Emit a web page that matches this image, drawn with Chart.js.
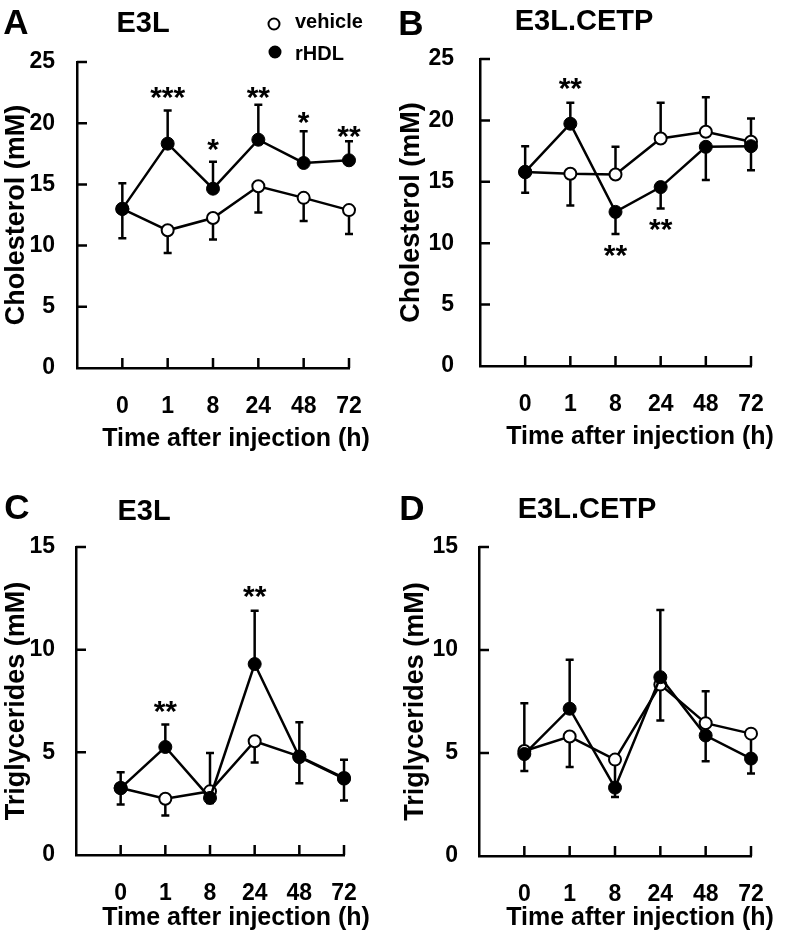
<!DOCTYPE html>
<html>
<head>
<meta charset="utf-8">
<script src="https://cdn.jsdelivr.net/npm/chart.js@4.4.1/dist/chart.umd.min.js"></script>
<style>
  body { margin: 0; background: #fff; }
  #wrap { position: relative; width: 788px; height: 941px; background: #fff; }
  canvas { position: absolute; }
</style>
</head>
<body>
<div id="wrap">
  <canvas id="chartA" width="394" height="460" style="left:0;top:0"></canvas>
  <canvas id="chartB" width="394" height="460" style="left:394px;top:0"></canvas>
  <canvas id="chartC" width="394" height="481" style="left:0;top:460px"></canvas>
  <canvas id="chartD" width="394" height="481" style="left:394px;top:460px"></canvas>
</div>
<script>
// data (mean values, error = SD; sign gives direction drawn)
var timeLabels = ['0', '1', '8', '24', '48', '72'];
var seriesNames = ['vehicle', 'rHDL'];
var xTitle = 'Time after injection (h)';

// A - cholesterol, E3L
var cholE3LVehicle = [13.0, 11.25, 12.25, 14.85, 13.9, 12.9];
var cholE3LVehicleErr = [-2.4, -1.85, -1.75, -2.15, -1.9, -1.95];
var cholE3LRhdl = [13.0, 18.33, 14.65, 18.65, 16.75, 16.97];
var cholE3LRhdlErr = [2.1, 2.7, 2.2, 2.85, 2.6, 1.55];
var cholE3LStars = ['', '***', '*', '**', '*', '**'];
var cholE3LStarLevel = [0, 22.5, 18.2, 22.5, 20.4, 19.3];

// B - cholesterol, E3L.CETP
var cholCetpVehicle = [15.8, 15.65, 15.6, 18.53, 19.08, 18.26];
var cholCetpVehicleErr = [2.1, -2.58, 2.25, 2.9, 2.8, 1.9];
var cholCetpRhdl = [15.8, 19.73, 12.55, 14.57, 17.85, 17.9];
var cholCetpRhdlErr = [-1.7, 1.7, -1.8, -1.74, -2.7, -1.95];
var cholCetpStars = ['', '**', '**', '**', '', ''];
var cholCetpStarLevel = [0, 22.95, 9.35, 11.45, 0, 0];

// C - triglycerides, E3L
var tgE3LVehicle = [3.26, 2.74, 3.1, 5.54, 4.8, 3.75];
var tgE3LVehicleErr = [-0.8, -0.82, 1.87, -1.03, -1.3, -1.1];
var tgE3LRhdl = [3.26, 5.26, 2.78, 9.3, 4.77, 3.72];
var tgE3LRhdlErr = [0.77, 1.09, -0.25, 2.6, 1.69, 0.92];
var tgE3LStars = ['', '**', '', '**', '', ''];
var tgE3LStarLevel = [0, 7.22, 0, 12.82, 0, 0];

// D - triglycerides, E3L.CETP
var tgCetpVehicle = [5.1, 5.8, 4.68, 8.32, 6.45, 5.94];
var tgCetpVehicleErr = [-0.97, -1.48, -1.4, -1.74, 1.55, -1.0];
var tgCetpRhdl = [4.95, 7.15, 3.32, 8.68, 5.85, 4.73];
var tgCetpRhdlErr = [2.47, 2.38, -0.45, 3.26, -1.25, -0.73];
var tgCetpStars = ['', '', '', '', '', ''];
var tgCetpStarLevel = [0, 0, 0, 0, 0, 0];

var FONT = '"Liberation Sans", Arial, sans-serif';
var X_AXIS_H = 81;

function textMid(ctx, txt, cx, cy, align) {
  ctx.textAlign = align || 'center';
  ctx.textBaseline = 'alphabetic';
  var m = ctx.measureText(txt);
  ctx.fillText(txt, cx, cy + (m.actualBoundingBoxAscent - m.actualBoundingBoxDescent) / 2);
}

function makePanel(id, p) {
  var decor = {
    id: 'decor',
    beforeDatasetsDraw: function (chart) {
      var ctx = chart.ctx, xs = chart.scales.x, ys = chart.scales.y;
      ctx.save();
      ctx.strokeStyle = '#000';
      ctx.lineWidth = 2.5;
      // error bars
      chart.data.datasets.forEach(function (ds) {
        ds.data.forEach(function (pt, i) {
          var e = ds.err[i];
          if (!e) return;
          var px = xs.getPixelForValue(pt.x);
          var y0 = ys.getPixelForValue(pt.y);
          var y1 = ys.getPixelForValue(pt.y + e);
          ctx.beginPath();
          ctx.moveTo(px, y0); ctx.lineTo(px, y1);
          ctx.moveTo(px - 4, y1); ctx.lineTo(px + 4, y1);
          ctx.stroke();
        });
      });
      // inward tick marks
      var ca = chart.chartArea;
      ctx.beginPath();
      for (var i = 0; i < timeLabels.length; i++) {
        var tx = xs.getPixelForValue(i);
        ctx.moveTo(tx, ca.bottom); ctx.lineTo(tx, ca.bottom - 10);
      }
      for (var v = p.yStep; v <= p.yMax; v += p.yStep) {
        var ty = ys.getPixelForValue(v);
        ctx.moveTo(ca.left, ty); ctx.lineTo(ca.left + 10, ty);
      }
      ctx.stroke();
      ctx.restore();
    },
    afterDraw: function (chart) {
      var ctx = chart.ctx, xs = chart.scales.x, ys = chart.scales.y;
      ctx.save();
      ctx.fillStyle = '#000';
      ctx.font = 'bold 35px ' + FONT;
      textMid(ctx, p.letter, p.letterPos[0] - p.box.x, p.letterPos[1] - p.box.y);
      ctx.font = 'bold 29px ' + FONT;
      textMid(ctx, p.title, p.titlePos[0] - p.box.x, p.titlePos[1] - p.box.y);
      // x axis title
      ctx.font = 'bold 25px ' + FONT;
      ctx.textAlign = 'center';
      ctx.textBaseline = 'middle';
      ctx.fillText(xTitle, p.xTitlePos[0] - p.box.x, p.xTitlePos[1] - p.box.y);
      // significance stars
      ctx.font = 'bold 30px ' + FONT;
      p.stars.forEach(function (s, i) {
        if (!s) return;
        textMid(ctx, s, xs.getPixelForValue(i), ys.getPixelForValue(p.starLevel[i]));
      });
      // legend
      if (p.legend) {
        var rows = [[274, 24, 295, 20], [275, 52, 295, 53]];
        chart.data.datasets.forEach(function (ds, k) {
          var r = rows[k];
          ctx.beginPath();
          ctx.arc(r[0] - p.box.x, r[1] - p.box.y, 5.5, 0, Math.PI * 2);
          ctx.fillStyle = ds.pointBackgroundColor;
          ctx.fill();
          ctx.lineWidth = 2;
          ctx.strokeStyle = '#000';
          ctx.stroke();
          ctx.fillStyle = '#000';
          ctx.font = 'bold 20px ' + FONT;
          textMid(ctx, ds.label, r[2] - p.box.x, r[3] - p.box.y, 'left');
        });
      }
      ctx.restore();
    }
  };

  function pts(arr) {
    return arr.map(function (v, i) { return { x: i, y: v }; });
  }

  var tickFont = { family: FONT, size: 23, weight: 'bold' };
  var titleFont = { family: FONT, size: 27, weight: 'bold' };

  return new Chart(document.getElementById(id), {
    type: 'line',
    data: {
      datasets: [
        {
          label: seriesNames[0], data: pts(p.vehicle), err: p.vehicleErr,
          borderColor: '#000', borderWidth: 2.5, pointRadius: 6,
          pointBackgroundColor: '#fff', pointBorderColor: '#000', pointBorderWidth: 2,
          order: 2, clip: false, tension: 0
        },
        {
          label: seriesNames[1], data: pts(p.rhdl), err: p.rhdlErr,
          borderColor: '#000', borderWidth: 2.5, pointRadius: 6.5,
          pointBackgroundColor: '#000', pointBorderColor: '#000', pointBorderWidth: 1,
          order: 1, clip: false, tension: 0
        }
      ]
    },
    options: {
      responsive: false,
      animation: false,
      events: [],
      layout: {
        padding: {
          left: 0,
          top: p.plot.t - p.box.y,
          right: p.box.x + p.box.w - p.plot.r,
          bottom: p.box.y + p.box.h - p.plot.b - X_AXIS_H
        }
      },
      plugins: { legend: { display: false }, tooltip: { enabled: false } },
      scales: {
        x: {
          type: 'linear', min: -1, max: 5,
          afterFit: function (s) { s.height = X_AXIS_H; },
          grid: { display: false },
          border: { display: true, color: '#000', width: 2.5 },
          ticks: {
            stepSize: 1, autoSkip: false, maxRotation: 0, padding: p.xLabelPad, color: '#000', font: tickFont,
            callback: function (v) { return (v >= 0 && v < timeLabels.length) ? timeLabels[v] : ''; }
          },
          title: { display: false }
        },
        y: {
          min: 0, max: p.yMax,
          afterFit: function (s) { s.width = p.plot.l - p.box.x; },
          grid: { display: false },
          border: { display: true, color: '#000', width: 2.5 },
          ticks: { stepSize: p.yStep, padding: p.yLabelPad, color: '#000', font: tickFont },
          title: { display: true, text: p.yTitle, color: '#000', font: titleFont, padding: { top: p.yTitlePad, bottom: 0 } }
        }
      }
    },
    plugins: [decor]
  });
}

makePanel('chartA', {
  vehicle: cholE3LVehicle, vehicleErr: cholE3LVehicleErr, rhdl: cholE3LRhdl, rhdlErr: cholE3LRhdlErr,
  stars: cholE3LStars, starLevel: cholE3LStarLevel,
  yMax: 25, yStep: 5, yTitle: 'Cholesterol (mM)', letter: 'A', title: 'E3L', legend: true,
  box: { x: 0, y: 0, w: 394, h: 460 }, plot: { l: 77, r: 349, t: 62, b: 368 },
  yLabelPad: 14, yTitlePad: 0, xLabelPad: 17, letterPos: [16, 22], titlePos: [143, 22], xTitlePos: [236, 439]
});
makePanel('chartB', {
  vehicle: cholCetpVehicle, vehicleErr: cholCetpVehicleErr, rhdl: cholCetpRhdl, rhdlErr: cholCetpRhdlErr,
  stars: cholCetpStars, starLevel: cholCetpStarLevel,
  yMax: 25, yStep: 5, yTitle: 'Cholesterol (mM)', letter: 'B', title: 'E3L.CETP', legend: false,
  box: { x: 394, y: 0, w: 394, h: 460 }, plot: { l: 480, r: 751, t: 59, b: 366 },
  yLabelPad: 18, yTitlePad: 1, xLabelPad: 17, letterPos: [411, 23], titlePos: [584, 20], xTitlePos: [640, 437]
});
makePanel('chartC', {
  vehicle: tgE3LVehicle, vehicleErr: tgE3LVehicleErr, rhdl: tgE3LRhdl, rhdlErr: tgE3LRhdlErr,
  stars: tgE3LStars, starLevel: tgE3LStarLevel,
  yMax: 15, yStep: 5, yTitle: 'Triglycerides (mM)', letter: 'C', title: 'E3L', legend: false,
  box: { x: 0, y: 460, w: 394, h: 481 }, plot: { l: 76, r: 344, t: 547, b: 855 },
  yLabelPad: 13, yTitlePad: 0, xLabelPad: 17, letterPos: [17, 507], titlePos: [144, 510], xTitlePos: [236, 918]
});
makePanel('chartD', {
  vehicle: tgCetpVehicle, vehicleErr: tgCetpVehicleErr, rhdl: tgCetpRhdl, rhdlErr: tgCetpRhdlErr,
  stars: tgCetpStars, starLevel: tgCetpStarLevel,
  yMax: 15, yStep: 5, yTitle: 'Triglycerides (mM)', letter: 'D', title: 'E3L.CETP', legend: false,
  box: { x: 394, y: 460, w: 394, h: 481 }, plot: { l: 479, r: 751, t: 547, b: 856 },
  yLabelPad: 13, yTitlePad: 5, xLabelPad: 17, letterPos: [412, 508], titlePos: [587, 508], xTitlePos: [640, 918]
});
</script>
</body>
</html>
